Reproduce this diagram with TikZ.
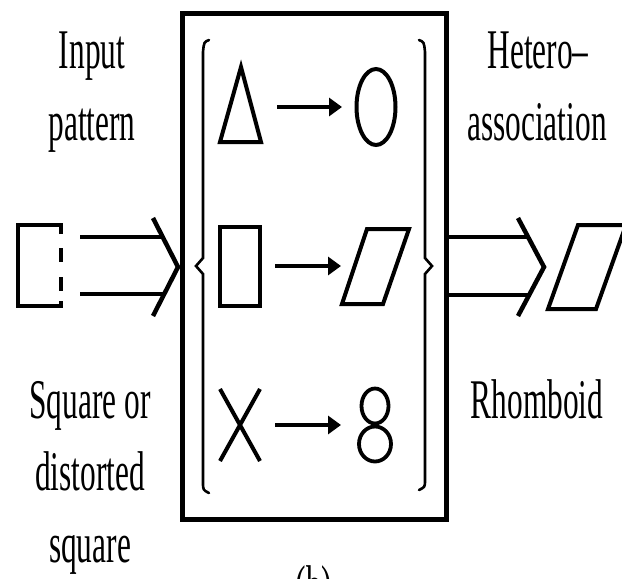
\documentclass[tikz,border=0pt]{standalone}
\usepackage{fontspec}
\setmainfont{Liberation Serif}
\usetikzlibrary{arrows.meta}
\tikzset{
  shp/.style={line width=4pt, line join=miter},
  frame/.style={line width=5pt},
  brace/.style={line width=2.6pt, line cap=round},
  small/.style={line width=4pt, -{Triangle[length=13pt,width=18pt]}},
  dbl/.style={line width=4.5pt},
  lbl/.style={anchor=base, inner sep=0pt, font=\fontsize{56}{67}\selectfont},
}
\newcommand{\sq}[1]{\scalebox{0.56}[1]{#1}}
\begin{document}
\begin{tikzpicture}[x=1pt,y=-1pt]
\useasboundingbox (0,0) rectangle (622,579);
% main box
\draw[frame] (182,13) rectangle (446,519);
% braces
\draw[brace] (209,40) .. controls (204,42) .. (203,52) -- (203,258) -- (196,266) -- (203,274) -- (203,482) .. controls (203,490) .. (209,493);
\draw[brace] (419,40) .. controls (424,42) .. (425,52) -- (425,258) -- (432,266) -- (425,274) -- (425,480) .. controls (425,487) .. (419,490);
% row 1
\draw[shp] (241,67) -- (261,142) -- (220,142) -- cycle;
\coordinate (a1s) at (277,107);
\coordinate (a1e) at (342,107);
\draw[small] (a1s) -- (a1e);
\draw[shp] (376,107) ellipse [x radius=19.5, y radius=38];
% row 2
\draw[shp] (220,227) rectangle (260,306);
\coordinate (a2s) at (275,266);
\coordinate (a2e) at (341,266);
\draw[small] (a2s) -- (a2e);
\draw[shp] (367,229) -- (409,229) -- (383,304) -- (342,304) -- cycle;
% row 3
\draw[shp] (220,389) -- (260,461) (260,389) -- (220,461);
\coordinate (a3s) at (275,425);
\coordinate (a3e) at (341,425);
\draw[small] (a3s) -- (a3e);
\draw[line width=3.8pt] (375,406) ellipse [x radius=13.5, y radius=17.5];
\draw[line width=3.8pt] (375,444) ellipse [x radius=16, y radius=17.5];
% left input square (dashed right side)
\draw[shp] (61,234) -- (61,225) -- (18,225) -- (18,306) -- (61,306) -- (61,301);
\draw[shp] (61,248) -- (61,262) (61,277) -- (61,291);
% left double arrow
\coordinate (lt) at (178,267);
\draw[dbl] (80,237) -- (163,237) (80,294) -- (163,294);
\draw[dbl] (153,218) -- (lt) -- (153,316);
% right double arrow
\coordinate (rt) at (544,267);
\draw[dbl] (446,237) -- (528,237) (446,295) -- (528,295);
\draw[dbl] (518,218) -- (rt) -- (518,316);
% right rhomboid
\draw[shp] (578,225) -- (626,225) -- (596,309) -- (548,309) -- cycle;
% labels
\node[lbl] (t1) at (92,68) {\sq{Input}};
\node[lbl] (t2) at (92,140) {\sq{pattern}};
\node[lbl] (t3) at (538,68) {\sq{Hetero–}};
\node[lbl] (t4) at (537,140) {\sq{association}};
\node[lbl] (t5) at (90,418) {\sq{Square or}};
\node[lbl] (t6) at (90,490) {\sq{distorted}};
\node[lbl] (t7) at (90,562) {\sq{square}};
\node[lbl] (t8) at (537,418) {\sq{Rhomboid}};
\node[lbl] (t9) at (314,604) {\sq{(b)}};
\end{tikzpicture}
\end{document}
